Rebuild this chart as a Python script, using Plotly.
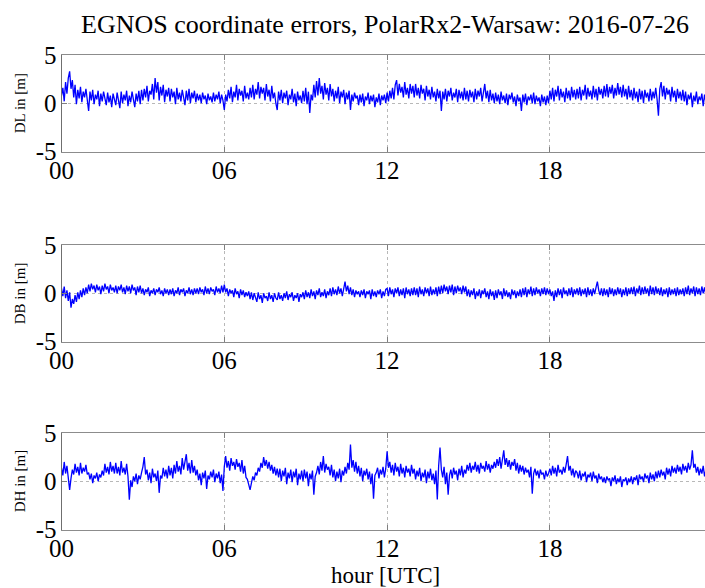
import plotly.graph_objects as go

# time axis: hours, every 3 minutes
hours = [i * 0.05 for i in range(480)]

dl = [
 0.8, 1.6, 0.2, 2.2, 1.0, 2.6, 3.3, 1.5, 2.4, 0.6, 1.9, -0.1, 1.4, 0.5, 1.7, 0.1, 1.2, 0.6, 1.5, 0.0,
 -0.8, 1.2, 0.3, 1.4, -0.1, 0.9, 0.4, 1.3, -0.3, 1.0, 0.2, 1.2, 0.5, -0.2, 1.1, 0.1, 0.8, -0.4, 1.0, 0.3,
 -0.2, 1.1, 0.4, -0.5, 1.2, 0.0, 0.9, 0.3, 1.3, -0.3, 0.8, 0.1, 1.2, 0.4, -0.4, 1.0, 0.2, 1.3, -0.1, 1.4,
 0.3, 1.5, 0.6, 1.8, 0.2, 1.3, 0.9, 2.0, 0.4, 2.6, 1.1, 2.2, 0.3, 1.7, 0.8, 1.9, 0.1, 1.4, 0.7, 1.6,
 0.2, 1.5, 0.6, 1.2, -0.1, 1.6, 0.4, 1.1, 0.2, 1.4, 0.7, -0.2, 1.3, 0.3, 1.5, 0.0, 1.1, 0.5, 1.3, 0.1,
 1.0, 0.3, 0.9, 0.0, 1.1, 0.4, 0.8, -0.1, 1.0, 0.3, 0.7, 0.1, 1.1, 0.2, 0.9, 0.4, 1.2, 0.0, 0.9, 0.3,
 -0.7, 0.9, 0.2, 1.4, 0.5, 1.7, 0.1, 1.2, 0.6, 1.9, 0.3, 1.5, 0.8, 1.3, 0.2, 1.8, 0.5, 1.1, 0.4, 1.6,
 0.6, 1.9, 0.4, 1.5, 0.9, 2.2, 0.5, 1.7, 1.0, 1.6, 0.3, 2.0, 0.7, 1.4, 0.2, 1.8, 0.5, 1.1, 0.0, -0.7,
 1.2, 0.3, 1.4, 0.0, 1.1, 0.5, 1.3, -0.2, 0.9, 0.4, 1.5, 0.1, 1.0, -0.3, 1.2, 0.3, 0.8, 0.0, 1.3, 0.2,
 1.6, -0.1, 1.2, -1.0, 0.9, 0.3, 1.9, 0.6, 2.3, 0.8, 2.6, 1.0, 1.8, 0.4, 2.1, 0.9, 1.6, 0.3, 2.0, 0.7,
 1.5, 0.2, 1.3, 0.5, 1.7, 0.0, 1.2, 0.6, 1.4, -0.1, 1.1, 0.4, 1.3, -0.7, 0.9, 0.2, 1.1, 0.5, 0.8, -0.2,
 0.9, 0.1, 1.0, -0.3, 0.7, 0.3, 1.1, -0.1, 0.8, 0.2, 0.9, -0.4, 0.6, 0.1, 1.0, -0.2, 0.8, 0.3, 0.9, 0.0,
 1.1, 0.2, 1.3, 0.5, 1.6, 0.4, 1.9, 2.4, 0.8, 2.0, 1.1, 1.7, 0.6, 2.2, 0.9, 1.6, 0.5, 2.0, 1.0, 1.8,
 0.6, 2.0, 0.8, 1.6, 0.5, 1.9, 1.0, 1.5, 0.3, 1.8, 0.7, 1.4, 0.4, 1.7, 0.6, 1.2, 0.2, 1.5, 0.5, 1.3,
 -0.8, 1.2, 0.4, 1.5, 0.2, 1.3, 0.7, 1.6, 0.3, 1.1, 0.6, 1.5, 0.1, 1.4, 0.5, 1.2, 0.3, 1.6, 0.4, 1.3,
 0.2, 1.4, 0.6, 1.2, 0.1, 1.5, 0.4, 1.3, 0.7, 1.6, 0.2, 1.1, 2.0, 0.5, 1.3, 0.1, 1.4, 0.3, 1.0, 0.0,
 1.1, 0.2, 0.9, -0.1, 1.2, 0.3, 0.8, 0.0, 1.0, -0.2, 0.9, 0.4, 1.1, 0.1, 0.7, -0.3, 0.9, 0.2, 0.6, -0.8,
 0.9, 0.1, 1.0, -0.2, 0.7, 0.3, 0.9, 0.0, 1.1, -0.1, 0.8, 0.2, 0.6, -0.3, 0.9, 0.1, 0.7, -0.2, 0.8, 0.0,
 1.3, 0.4, 1.6, 0.2, 1.4, 0.7, 1.8, 0.3, 1.5, 0.6, 1.2, 0.1, 1.6, 0.5, 1.3, 0.3, 1.7, 0.6, 1.4, 0.4,
 1.5, 0.5, 1.7, 0.3, 1.4, 0.8, 1.9, 0.4, 1.6, 0.7, 1.3, 0.4, 1.8, 0.6, 1.5, 0.3, 1.7, 0.9, 1.5, 0.5,
 1.8, 0.7, 2.0, 0.6, 1.7, 1.0, 1.9, 0.5, 1.6, 0.8, 2.1, 0.9, 1.7, 0.6, 1.9, 0.7, 1.5, 0.4, 1.8, 0.6,
 1.4, 0.3, 1.6, 0.5, 1.2, 0.1, 1.5, 0.4, 1.3, 0.0, 1.4, 0.6, 1.1, 0.2, 1.5, 0.3, 1.2, 0.5, 1.6, 0.4,
 -1.3, 1.5, 2.2, 0.7, 1.8, 0.4, 1.6, 0.9, 1.4, 0.2, 1.7, 0.6, 1.3, 0.1, 1.5, 0.5, 1.2, 0.3, 1.4, 0.2,
 1.2, -0.2, 0.9, 0.4, 1.1, -0.4, 0.8, 0.2, 1.2, -0.1, 0.7, 0.3, 1.0, -0.3, 0.9, 0.1, 1.1, 0.0, 0.8, 0.2,
]

db = [
 0.5, -0.3, 0.7, -0.5, 0.3, -0.8, 0.1, -1.5, -0.6, -1.1, -0.2, -0.9, 0.1, -0.6, 0.3, -0.4, 0.5, -0.2, 0.6, 0.0,
 0.9, 0.2, 1.0, 0.4, 0.8, 0.1, 0.9, 0.3, 0.7, -0.1, 0.8, 0.2, 1.0, 0.4, 0.7, 0.0, 0.9, 0.3, 0.6, 0.1,
 0.8, 0.0, 0.7, 0.3, 0.9, 0.1, 0.6, -0.1, 0.8, 0.2, 0.7, 0.0, 0.9, 0.3, 0.6, -0.2, 0.7, 0.1, 0.8, 0.0,
 0.5, -0.2, 0.4, 0.1, 0.6, -0.3, 0.3, 0.0, 0.5, -0.2, 0.4, 0.1, 0.6, -0.1, 0.3, -0.3, 0.5, 0.0, 0.4, -0.2,
 0.4, -0.1, 0.5, -0.3, 0.3, 0.0, 0.6, -0.2, 0.4, 0.1, 0.5, -0.3, 0.3, 0.0, 0.6, -0.1, 0.4, -0.2, 0.5, 0.0,
 0.5, -0.1, 0.6, 0.1, 0.4, -0.2, 0.7, 0.0, 0.5, -0.1, 0.6, 0.2, 0.4, -0.2, 0.7, 0.1, 0.5, 0.0, 0.8, 0.1,
 0.9, 0.1, 0.5, -0.3, 0.4, 0.0, 0.3, -0.4, 0.5, -0.1, 0.2, -0.5, 0.4, -0.2, 0.3, -0.4, 0.1, -0.3, 0.2, -0.6,
 0.1, -0.7, 0.0, -0.4, -0.9, 0.1, -0.6, -0.2, -1.0, 0.0, -0.5, -0.3, -0.8, 0.1, -0.6, -0.2, -0.9, 0.0, -0.5, -0.7,
 0.1, -0.6, -0.2, -0.8, 0.0, -0.5, 0.2, -0.7, -0.1, -0.4, 0.1, -0.8, -0.2, -0.5, 0.0, -0.9, -0.1, -0.4, 0.1, -0.6,
 0.3, -0.4, 0.1, -0.5, 0.4, -0.3, 0.2, -0.6, 0.3, -0.2, 0.5, -0.4, 0.1, -0.3, 0.4, -0.5, 0.2, -0.2, 0.5, -0.3,
 0.6, -0.1, 0.4, -0.2, 0.7, 0.0, 0.5, -0.3, 0.6, 1.2, 0.2, 0.8, -0.1, 0.6, -0.2, 0.4, -0.4, 0.3, -0.1, 0.2,
 -0.4, 0.3, -0.2, 0.4, -0.5, 0.2, -0.1, 0.3, -0.6, 0.4, -0.3, 0.2, -0.4, 0.3, -0.1, 0.4, -0.5, 0.2, -0.3, 0.4,
 0.5, -0.3, 0.6, -0.1, 0.4, -0.4, 0.5, 0.0, 0.6, -0.3, 0.4, -0.2, 0.5, -0.5, 0.6, -0.1, 0.4, -0.3, 0.5, -0.2,
 0.6, -0.2, 0.5, -0.4, 0.7, -0.1, 0.4, -0.3, 0.6, 0.0, 0.5, -0.3, 0.7, -0.2, 0.4, -0.1, 0.6, -0.3, 0.7, -0.1,
 0.8, 0.0, 0.9, 0.2, 0.7, -0.1, 0.8, 0.1, 0.9, -0.2, 0.7, 0.0, 0.8, 0.2, 0.6, -0.1, 0.8, 0.1, 0.7, -0.3,
 0.4, -0.4, 0.3, -0.2, 0.5, -0.6, 0.2, -0.3, 0.4, -0.5, 0.3, -0.1, 0.5, -0.4, 0.2, -0.6, 0.4, -0.3, 0.2, -0.7,
 0.3, -0.5, 0.4, -0.2, 0.2, -0.6, 0.5, -0.3, 0.3, -0.4, 0.1, -0.6, 0.4, -0.2, 0.3, -0.5, 0.2, -0.3, 0.4, -0.4,
 0.5, -0.2, 0.6, -0.4, 0.4, -0.1, 0.7, -0.3, 0.5, -0.2, 0.6, 0.0, 0.4, -0.3, 0.5, -0.1, 0.6, -0.2, 0.5, -0.1,
 0.4, -0.3, 0.2, -0.8, 0.3, -0.4, 0.5, -0.2, 0.4, -0.5, 0.6, -0.1, 0.3, -0.3, 0.5, -0.2, 0.6, -0.4, 0.4, -0.1,
 0.5, -0.2, 0.6, -0.3, 0.4, -0.1, 0.5, -0.4, 0.6, -0.2, 0.4, -0.3, 0.5, -0.1, 0.6, 1.2, 0.3, -0.2, 0.5, -0.3,
 0.5, -0.2, 0.4, -0.4, 0.6, -0.1, 0.5, -0.3, 0.4, -0.2, 0.6, -0.1, 0.5, -0.4, 0.4, -0.2, 0.6, -0.3, 0.5, -0.1,
 0.6, -0.1, 0.7, -0.3, 0.5, 0.0, 0.8, -0.2, 0.6, -0.1, 0.7, 0.0, 0.5, -0.3, 0.8, -0.1, 0.6, -0.2, 0.7, 0.0,
 0.5, -0.2, 0.6, -0.3, 0.4, -0.1, 0.5, -0.4, 0.6, -0.2, 0.4, -0.1, 0.5, -0.3, 0.6, -0.2, 0.4, -0.1, 0.5, -0.3,
 0.6, -0.1, 0.8, -0.2, 0.5, 0.0, 0.7, -0.3, 0.6, -0.1, 0.5, -0.2, 0.7, 0.0, 0.6, -0.2, 0.5, -0.1, 0.6, -0.2,
]

dh = [
 1.4, 0.6, 2.0, 0.8, 1.6, 0.2, -0.9, 0.3, 1.2, 0.7, 1.8, 0.9, 1.5, 0.6, 1.9, 0.8, 1.4, 1.0, 1.7, 0.7,
 0.9, 0.2, 0.8, -0.2, 0.6, 0.3, 0.9, 0.0, 0.7, 0.4, 1.1, 0.6, 1.8, 0.9, 1.5, 0.7, 2.0, 1.0, 1.6, 0.8,
 1.9, 0.8, 1.5, 0.6, 2.1, 0.9, 1.4, 0.7, 1.8, 0.5, -1.9, 0.1, -0.6, 0.5, 0.0, 0.8, -0.3, 0.6, 0.2, 0.9,
 1.5, 2.5, 0.7, 1.2, 0.1, 0.9, -0.2, 1.3, 0.4, 0.8, 0.0, 1.1, -1.2, 0.6, 0.3, 1.4, 0.5, 1.2, 0.3, 1.6,
 0.6, 1.4, 0.3, 1.7, 0.8, 2.1, 1.0, 1.6, 0.7, 2.4, 1.2, 2.0, 2.8, 1.1, 1.9, 0.8, 2.2, 0.9, 1.6, 0.6,
 1.2, 0.1, 0.8, -0.4, 0.9, 0.3, 1.1, -0.8, 0.6, 0.2, 1.0, 0.4, 1.2, -0.1, 0.8, 0.3, 1.0, -0.2, 0.7, -1.0,
 1.5, 2.6, 1.4, 2.1, 1.1, 2.4, 1.6, 2.0, 1.2, 2.3, 1.5, 1.9, 1.0, 2.2, 0.8, 1.6, 0.4, 0.2, -0.4, -0.9,
 -0.2, 0.5, 0.1, 0.9, 0.6, 1.4, 1.0, 1.9, 1.4, 2.5, 1.6, 2.2, 1.3, 2.0, 1.1, 1.7, 0.8, 1.5, 0.6, 1.3,
 0.4, 1.3, 0.0, 1.1, 0.5, 1.4, -0.3, 0.9, 0.3, 1.2, -0.1, 1.0, 0.4, 1.3, -0.4, 0.8, 0.2, 1.1, 0.0, 1.2,
 0.3, 1.0, -0.5, 0.8, 0.2, 1.1, -1.4, 0.5, 0.9, 1.6, 0.7, 2.0, 1.1, 2.6, 0.9, 1.8, 1.2, 1.5, 0.6, 1.7,
 0.4, 1.2, 0.0, 1.0, 0.3, 1.3, -0.1, 1.1, 0.6, 1.5, 0.8, 1.9, 1.2, 3.8, 1.4, 2.2, 1.0, 2.0, 0.8, 1.6,
 0.5, 1.4, 0.0, 1.1, 0.6, 1.3, 0.2, 1.0, -0.3, 0.8, -1.8, 0.6, 0.9, 1.4, 0.3, 1.2, 0.7, 1.5, 0.4, 1.3,
 3.1, 1.4, 2.0, 0.9, 1.7, 0.6, 1.9, 1.0, 1.5, 0.5, 1.8, 0.8, 1.4, 0.4, 1.6, 0.9, 1.3, 0.5, 1.7, 0.8,
 1.3, 0.2, 1.1, 0.5, 1.4, 0.0, 0.9, 0.4, 1.2, -0.2, 1.0, 0.3, 1.3, 0.1, 0.8, -0.3, 1.1, -1.9, 1.6, 3.5,
 1.2, 0.4, 1.5, -0.3, 0.9, -1.4, 0.6, 1.2, 0.3, 1.4, 0.7, 1.1, 0.1, 1.3, 0.6, 1.6, 0.4, 1.2, 0.8, 1.7,
 1.1, 1.9, 0.9, 1.6, 1.2, 2.0, 1.0, 1.7, 0.8, 1.9, 1.3, 1.6, 1.0, 2.1, 1.2, 1.8, 0.9, 1.7, 1.3, 2.0,
 1.4, 2.3, 1.6, 2.5, 1.3, 2.1, 3.2, 1.7, 2.4, 1.5, 2.2, 1.2, 2.0, 1.6, 2.3, 1.1, 1.9, 0.8, 1.7, 1.0,
 1.6, 0.7, 1.4, 0.9, 1.2, 0.4, 1.5, -1.3, 0.8, 1.3, 0.6, 1.1, 0.3, 1.2, 0.7, 0.9, 0.2, 1.1, 0.5, 0.8,
 1.3, 0.6, 1.6, 0.8, 1.4, 0.5, 1.7, 0.9, 1.2, 0.7, 1.5, 0.9, 1.8, 2.6, 1.1, 1.6, 0.6, 1.3, 0.4, 1.1,
 0.9, 0.3, 1.1, 0.1, 0.8, 0.5, 1.0, -0.1, 0.7, 0.4, 0.9, 0.0, 1.0, 0.3, 0.6, -0.2, 0.8, 0.2, 0.5, -0.1,
 0.4, -0.2, 0.5, 0.1, 0.3, -0.5, 0.4, 0.0, 0.6, -0.3, 0.3, -0.1, 0.5, -0.6, 0.2, 0.0, 0.4, -0.4, 0.3, -0.1,
 0.5, -0.3, 0.4, 0.1, 0.6, -0.4, 0.7, 0.2, 0.5, -0.1, 0.8, 0.3, 0.6, -0.2, 0.9, 0.2, 0.7, 0.0, 1.0, 0.3,
 1.1, 0.4, 1.2, 0.6, 1.0, 0.2, 1.4, 0.7, 1.3, 0.5, 1.6, 0.9, 1.4, 0.8, 1.7, 1.0, 1.5, 0.7, 1.8, 1.1,
 1.6, 0.9, 1.9, 1.2, 1.7, 3.2, 1.4, 1.8, 0.9, 1.5, 0.6, 1.3, 0.8, 1.6, 0.5, 1.2, 0.9, 1.4, 0.7, 1.1,
]

series = [dl, db, dh]
ylabels = ["DL in [m]", "DB in [m]", "DH in [m]"]
xtick_vals = [0, 6, 12, 18]
xtick_text = ["00", "06", "12", "18"]
ytick_vals = [-5, 0, 5]
ytick_text = ["-5", "0", "5"]
title = "EGNOS coordinate errors, PolarRx2-Warsaw: 2016-07-26"
xlabel = "hour [UTC]"

W, H = 705, 588
SERIF = "Liberation Serif, Times New Roman, serif"
x0_px, x1_px = 61.5, 705
panels_px = [(55, 151.5), (245, 341.5), (433, 529.5)]
xmax = (x1_px - x0_px) / 162.8 * 6

fig = go.Figure()
layout = dict(
    template="none",
    width=W, height=H, margin=dict(l=0, r=0, t=0, b=0, autoexpand=False),
    paper_bgcolor="white", plot_bgcolor="white", showlegend=False,
    font=dict(family=SERIF, color="black"),
)
annotations = []
for i, (vals, lab, (top, bot)) in enumerate(zip(series, ylabels, panels_px)):
    n = "" if i == 0 else str(i + 1)
    fig.add_trace(go.Scatter(x=hours, y=vals, mode="lines",
                             line=dict(color="#0000ff", width=1.3),
                             xaxis="x" + n, yaxis="y" + n, hoverinfo="skip"))
    dom_y = [1 - bot / H, 1 - top / H]
    layout["xaxis" + n] = dict(
        domain=[x0_px / W, x1_px / W], range=[0, xmax], anchor="y" + n,
        automargin=False,
        tickvals=xtick_vals, ticktext=xtick_text, ticks="inside", ticklen=5,
        tickcolor="#7f7f7f", showline=True, linecolor="#8c8c8c", linewidth=1,
        mirror="ticks", showgrid=True, gridcolor="#b8b8b8", griddash="dot",
        gridwidth=1, zeroline=False, tickfont=dict(size=25, family=SERIF),
        ticklabelstandoff=-4,
    )
    layout["yaxis" + n] = dict(
        domain=dom_y, range=[-5, 5], anchor="x" + n, automargin=False,
        tickvals=ytick_vals, ticktext=ytick_text, ticks="inside", ticklen=5,
        tickcolor="#7f7f7f", showline=True, linecolor="#6f6f6f", linewidth=1,
        showgrid=True, gridcolor="#b8b8b8", griddash="dot", gridwidth=1,
        zeroline=False, tickfont=dict(size=25, family=SERIF),
        ticklabelstandoff=-1,
    )
    annotations.append(dict(
        text=lab, x=20 / W, y=1 - ((top + bot) / 2) / H, xref="paper", yref="paper",
        showarrow=False, textangle=-90, font=dict(size=15, family=SERIF),
        xanchor="center", yanchor="middle"))

annotations.append(dict(text=title, x=385 / W, y=1 - 25 / H, xref="paper", yref="paper",
                        showarrow=False, font=dict(size=26, family=SERIF),
                        xanchor="center", yanchor="middle"))
annotations.append(dict(text=xlabel, x=385 / W, y=1 - 575 / H, xref="paper", yref="paper",
                        showarrow=False, font=dict(size=23, family=SERIF),
                        xanchor="center", yanchor="middle"))
layout["annotations"] = annotations
fig.update_layout(**layout)
fig.write_html("out.html")
